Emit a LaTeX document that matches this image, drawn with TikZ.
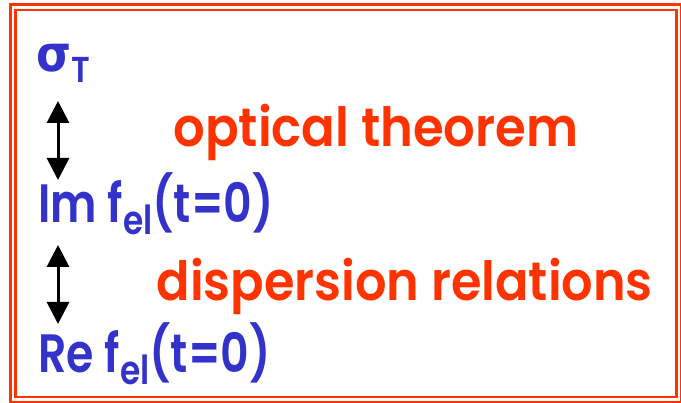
\documentclass[tikz,border=0pt]{standalone}
\usepackage{fontspec}
\setmainfont{Poppins}[BoldFont={Poppins SemiBold}]
\newfontfamily\greekfont{DejaVu Sans}
\usetikzlibrary{arrows.meta}
\definecolor{quantblue}{RGB}{51,51,204}
\definecolor{framered}{RGB}{255,51,0}
\newcommand{\lowtext}[3]{\raisebox{-#1}{\fontsize{#2}{#2}\selectfont #3}}
\newcommand{\squeeze}[2]{\scalebox{#1}[1]{#2}}
\tikzstyle{quantity}=[anchor=base west, inner sep=0pt, text=quantblue, font=\bfseries\fontsize{54}{54}\selectfont]
\tikzstyle{relation}=[anchor=base west, inner sep=0pt, text=framered, font=\bfseries\fontsize{54}{54}\selectfont]

\begin{document}
\begin{tikzpicture}[x=1pt, y=-1pt]

\tikzset{>={Triangle[width=22pt, length=22pt]}}
\tikzset{every path/.style={line width=3pt}}

\useasboundingbox (0,0) rectangle (681,403);

% double frame
\draw[framered, line width=2.4pt] (10.5,4.5) rectangle (681.5,401.8);
\draw[framered, line width=2.4pt] (15.5,9.8) rectangle (676.3,396.8);

% quantities
\node[quantity] (sigma) at (35,72) {\squeeze{0.9}{{\greekfont\fontsize{50}{50}\selectfont σ}\lowtext{11pt}{36}{T}}};
\node[quantity] (imf) at (37,223) {\squeeze{0.82}{Im f\lowtext{12pt}{40}{el}(t=0)}};
\node[quantity] (ref) at (37,373) {\squeeze{0.82}{Re f\lowtext{12pt}{40}{el}(t=0)}};

% relations
\node[relation] (optical) at (172,147) {\squeeze{0.92}{optical theorem}};
\node[relation] (dispersion) at (155,301) {\squeeze{0.915}{dispersion relations}};

\coordinate (optop) at (58,101);
\coordinate (opbot) at (58,180);
\coordinate (distop) at (58,245);
\coordinate (disbot) at (58,324);

\draw[<->] (optop) -- (opbot); % sigma <-> Im f
\draw[<->] (distop) -- (disbot); % Im f <-> Re f

\end{tikzpicture}
\end{document}
